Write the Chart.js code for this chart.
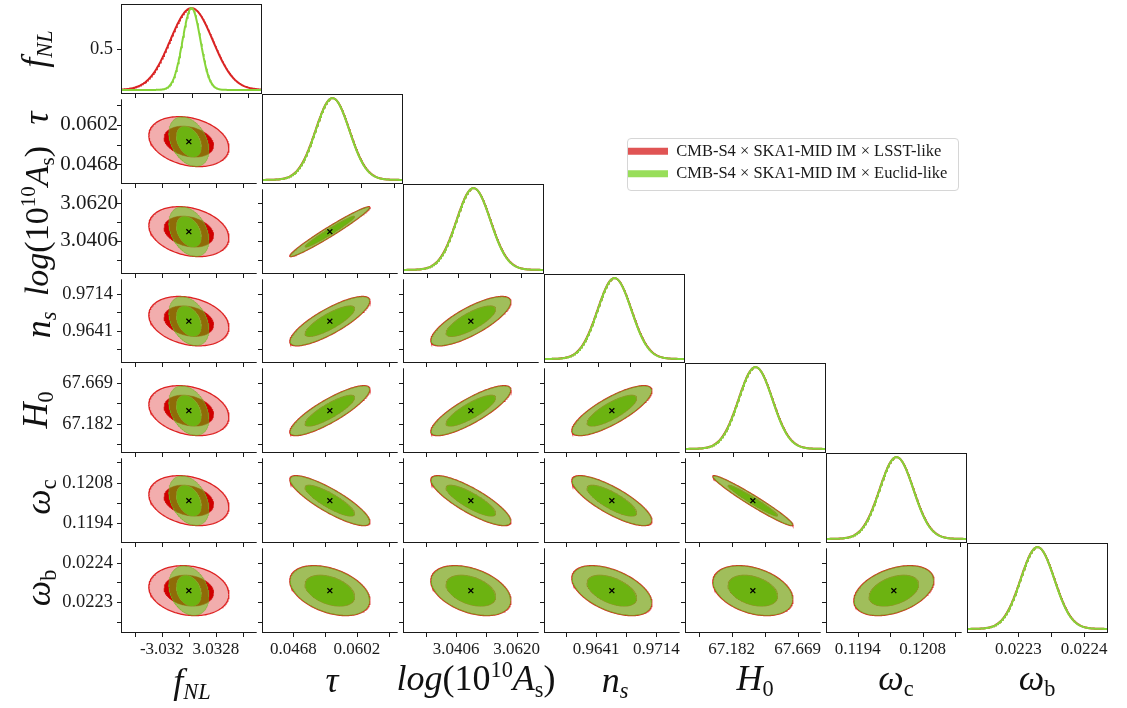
<!DOCTYPE html>
<html>
<head>
<meta charset="utf-8">
<script src="https://cdn.jsdelivr.net/npm/chart.js@4.4.1/dist/chart.umd.min.js"></script>
<style>
  html,body{margin:0;padding:0;background:#fff;}
  body{width:1127px;height:708px;position:relative;overflow:hidden;}
  canvas.panel{position:absolute;}
  .ttl{position:absolute;font-family:'Liberation Serif','DejaVu Serif',serif;font-size:36px;line-height:1;white-space:nowrap;color:#111;transform-origin:center center;}
  .ttl sub{font-size:0.62em;vertical-align:-0.28em;}
  .ttl sup{font-size:0.62em;vertical-align:0.6em;}
  #legbox{position:absolute;left:627px;top:138px;width:330px;height:51px;border:1px solid #d6d6d6;border-radius:4px;background:#fff;}
</style>
</head>
<body>
<div id="legbox"></div>
<script>
// ---------------- data ----------------
const paramKeys = ['fNL', 'tau', 'logAs', 'ns', 'H0', 'omegac', 'omegab'];
const fiducial = [0, 0.0545, 3.0458, 0.9660, 67.339, 0.12018, 0.022329];
// marginal errors used for the 2D contours
const sigmaLSST = [1.837, 0.00345, 0.00578, 0.00198, 0.1208, 0.000353, 0.0000259];
const sigmaEuclid = [0.918, 0.00342, 0.00573, 0.00196, 0.1197, 0.00035, 0.0000257];
// widths of the 1D marginal curves on the diagonal
const sigma1DLSST = [2.30, 0.00345, 0.00578, 0.00198, 0.1208, 0.000353, 0.0000259];
const sigma1DEuclid = [0.97, 0.00342, 0.00573, 0.00196, 0.1197, 0.00035, 0.0000257];
const corrLSST = [
  [ 1.00, -0.25, -0.25, -0.25, -0.25, -0.25, -0.15],
  [-0.25,  1.00,  0.975, 0.82,  0.85, -0.85, -0.40],
  [-0.25,  0.975, 1.00,  0.78,  0.83, -0.83, -0.40],
  [-0.25,  0.82,  0.78,  1.00,  0.80, -0.80, -0.50],
  [-0.25,  0.85,  0.83,  0.80,  1.00, -0.97, -0.35],
  [-0.25, -0.85, -0.83, -0.80, -0.97,  1.00,  0.40],
  [-0.15, -0.40, -0.40, -0.50, -0.35,  0.40,  1.00]
];
const corrEuclid = [
  [ 1.00, -0.35, -0.35, -0.35, -0.35, -0.35, -0.25],
  [-0.35,  1.00,  0.975, 0.82,  0.85, -0.85, -0.40],
  [-0.35,  0.975, 1.00,  0.78,  0.83, -0.83, -0.40],
  [-0.35,  0.82,  0.78,  1.00,  0.80, -0.80, -0.50],
  [-0.35,  0.85,  0.83,  0.80,  1.00, -0.97, -0.35],
  [-0.35, -0.85, -0.83, -0.80, -0.97,  1.00,  0.40],
  [-0.25, -0.40, -0.40, -0.50, -0.35,  0.40,  1.00]
];
const axisHalfRangeSigma = 4.15;
const tickValues = [[-3.032, 3.0328], [0.0468, 0.0602], [3.0406, 3.0620], [0.9641, 0.9714], [67.182, 67.669], [0.1194, 0.1208], [0.0223, 0.0224]];
const tickLabels = [['-3.032', '3.0328'], ['0.0468', '0.0602'], ['3.0406', '3.0620'], ['0.9641', '0.9714'], ['67.182', '67.669'], ['0.1194', '0.1208'], ['0.0223', '0.0224']];
const tickMarks = [
  [-6.064, -3.032, 0, 3.0328, 6.064],
  [0.0468, 0.0535, 0.0602, 0.0669],
  [3.0299, 3.0406, 3.0513, 3.0620],
  [0.96045, 0.9641, 0.96775, 0.9714],
  [66.9385, 67.182, 67.4255, 67.669],
  [0.1194, 0.1201, 0.1208, 0.1215],
  [0.02225, 0.0223, 0.02235, 0.0224]
];
const densityTickValues = [0.5];
const densityTickLabels = ['0.5'];
const densityRange = [-0.05, 1.05];
const contourLevels = [1.515, 2.448]; // 68% and 95% (2D)
const seriesLabels = ['CMB-S4 × SKA1-MID IM × LSST-like', 'CMB-S4 × SKA1-MID IM × Euclid-like'];
const axisTitleHtml = [
  '<i>f</i><sub><i>NL</i></sub>',
  '<i>τ</i>',
  '<i>log</i>(10<sup>10</sup><i>A</i><sub>s</sub>)',
  '<i>n</i><sub><i>s</i></sub>',
  '<i>H</i><sub>0</sub>',
  '<i>ω</i><sub>c</sub>',
  '<i>ω</i><sub>b</sub>'
];

// ---------------- layout & style ----------------
const colLeft = [121, 262, 403, 544, 685, 826, 967];
const colW = 141;
const rowTop = [4, 94, 184, 274, 363, 453, 543];
const rowH = [90, 90, 90, 89, 90, 90, 90];
const PAD = 6;
const SERIF = "'Liberation Serif','DejaVu Serif',serif";
const yTickFont = [18.5, 21, 21, 18.5, 18.5, 18.5, 18.5];
const yTickPad = [8, 3, 3, 8, 8, 8, 8];
const leftTitlePos = [[36, 49], [36, 118], [38, 221], [40, 325], [37, 410], [40, 497], [40, 588]];
const leftTitleSize = [36, 36, 34, 36, 36, 36, 36];
const bottomTitlePos = [[192, 683], [332, 680], [476, 680], [615, 682], [755, 680], [896, 680], [1037, 680]];

const C = {
  redLine: 'rgb(218,36,36)',
  greenLine: 'rgb(134,212,56)',
  redOuterFill: 'rgba(222,40,40,0.38)',
  redOuterEdge: 'rgb(222,34,34)',
  redInnerFill: 'rgb(208,0,0)',
  greenOuterFill: 'rgba(85,205,15,0.52)',
  greenOuterEdge: 'rgba(120,170,40,0.6)',
  greenInnerFill: 'rgba(106,184,18,0.94)',
  greenInnerEdge: 'rgba(140,170,50,0.8)',
  frame: '#1a1a1a',
  text: '#1a1a1a'
};

function axisMin(p) { return fiducial[p] - axisHalfRangeSigma * sigmaLSST[p]; }
function axisMax(p) { return fiducial[p] + axisHalfRangeSigma * sigmaLSST[p]; }

function ellipseHalves(j, i, sig, corr, k, n) {
  const sx = sig[j], sy = sig[i], r = corr[i][j];
  const up = [], lo = [];
  for (let m = 0; m <= n; m++) {
    const x = -Math.cos(Math.PI * m / n) * k;
    const h = Math.sqrt(Math.max(0, k * k - x * x));
    const yc = r * x, dy = Math.sqrt(1 - r * r) * h;
    up.push({x: fiducial[j] + x * sx, y: fiducial[i] + (yc + dy) * sy});
    lo.push({x: fiducial[j] + x * sx, y: fiducial[i] + (yc - dy) * sy});
  }
  return [up, lo];
}

function gaussian1D(p, sig, n) {
  const a = axisMin(p), b = axisMax(p), pts = [];
  for (let m = 0; m <= n; m++) {
    const x = a + (b - a) * m / n;
    const z = (x - fiducial[p]) / sig[p];
    pts.push({x: x, y: Math.exp(-0.5 * z * z)});
  }
  return pts;
}

const framePlugin = {
  id: 'frame',
  afterDatasetsDraw(chart, args, o) {
    const {ctx, chartArea: a} = chart;
    const xs = chart.scales.x, ys = chart.scales.y;
    ctx.save();
    ctx.strokeStyle = C.frame;
    ctx.lineWidth = 1;
    ctx.beginPath();
    ctx.moveTo(a.left + 0.5, a.top); ctx.lineTo(a.left + 0.5, a.bottom);
    ctx.moveTo(a.left, a.bottom - 0.5); ctx.lineTo(a.right, a.bottom - 0.5);
    if (o.diag) {
      ctx.moveTo(a.left, a.top + 0.5); ctx.lineTo(a.right, a.top + 0.5);
      ctx.moveTo(a.right - 0.5, a.top); ctx.lineTo(a.right - 0.5, a.bottom);
    }
    for (const v of o.xMarks) {
      const p = Math.round(xs.getPixelForValue(v)) + 0.5;
      ctx.moveTo(p, a.bottom); ctx.lineTo(p, a.bottom + 4);
    }
    for (const v of o.yMarks) {
      const p = Math.round(ys.getPixelForValue(v)) + 0.5;
      ctx.moveTo(a.left, p); ctx.lineTo(a.left - 4, p);
    }
    ctx.stroke();
    ctx.restore();
  }
};

function ellipseDatasets(j, i, sig, corr, k, fillCol, edgeCol, edgeW) {
  const [up, lo] = ellipseHalves(j, i, sig, corr, k, 90);
  return [
    {data: up, showLine: true, pointRadius: 0, borderColor: edgeCol, borderWidth: edgeW, backgroundColor: fillCol, fill: '+1', tension: 0},
    {data: lo, showLine: true, pointRadius: 0, borderColor: edgeCol, borderWidth: edgeW, backgroundColor: fillCol, fill: false, tension: 0}
  ];
}

function makePanel(i, j) {
  const diag = i === j;
  const left = j === 0 ? 0 : colLeft[j] - PAD;
  const right = colLeft[j] + colW;
  const top = rowTop[i];
  const bottom = i === 6 ? 708 : rowTop[i] + rowH[i] + PAD;
  const cv = document.createElement('canvas');
  cv.className = 'panel';
  cv.width = right - left; cv.height = bottom - top;
  cv.style.left = left + 'px'; cv.style.top = top + 'px';
  document.body.appendChild(cv);

  let datasets;
  if (diag) {
    datasets = [
      {data: gaussian1D(j, sigma1DEuclid, 220), showLine: true, pointRadius: 0, borderColor: C.greenLine, borderWidth: 2, fill: false},
      {data: gaussian1D(j, sigma1DLSST, 220), showLine: true, pointRadius: 0, borderColor: C.redLine, borderWidth: 2, fill: false}
    ];
  } else {
    datasets = [
      {data: [{x: fiducial[j], y: fiducial[i]}], pointStyle: 'crossRot', pointRadius: 3.5, borderColor: '#000', borderWidth: 1.3, backgroundColor: '#000', showLine: false},
      ...ellipseDatasets(j, i, sigmaEuclid, corrEuclid, contourLevels[0], C.greenInnerFill, C.greenInnerEdge, 0.8),
      ...ellipseDatasets(j, i, sigmaEuclid, corrEuclid, contourLevels[1], C.greenOuterFill, C.greenOuterEdge, 0.8),
      ...ellipseDatasets(j, i, sigmaLSST, corrLSST, contourLevels[0], C.redInnerFill, C.redInnerFill, 0.5),
      ...ellipseDatasets(j, i, sigmaLSST, corrLSST, contourLevels[1], C.redOuterFill, C.redOuterEdge, 1.3)
    ];
  }

  const xScale = {
    type: 'linear', min: axisMin(j), max: axisMax(j), position: 'bottom',
    display: i === 6,
    grid: {display: false, drawTicks: false}, border: {display: false},
    ticks: {font: {family: SERIF, size: 17}, color: C.text, padding: 6, maxRotation: 0, autoSkip: false,
            callback: (v, idx) => tickLabels[j][idx]},
    afterBuildTicks: (s) => { s.ticks = tickValues[j].map(v => ({value: v})); }
  };
  if (i === 6) xScale.afterFit = (s) => { s.height = 708 - (rowTop[6] + rowH[6]); s.paddingLeft = 0; s.paddingRight = 0; };

  const yVals = diag ? densityTickValues : tickValues[i];
  const yLabs = diag ? densityTickLabels : tickLabels[i];
  const yScale = {
    type: 'linear',
    min: diag ? densityRange[0] : axisMin(i),
    max: diag ? densityRange[1] : axisMax(i),
    position: 'left',
    display: j === 0,
    grid: {display: false, drawTicks: false}, border: {display: false},
    ticks: {font: {family: SERIF, size: yTickFont[i]}, color: C.text, padding: yTickPad[i], autoSkip: false,
            callback: (v, idx) => yLabs[idx]},
    afterBuildTicks: (s) => { s.ticks = yVals.map(v => ({value: v})); }
  };
  if (j === 0) yScale.afterFit = (s) => { s.width = colLeft[0]; s.paddingTop = 0; s.paddingBottom = 0; };

  new Chart(cv, {
    type: 'scatter',
    data: {datasets},
    options: {
      responsive: false, animation: false, devicePixelRatio: 1,
      layout: {padding: {left: j === 0 ? 0 : PAD, right: 0, top: 0, bottom: i === 6 ? 0 : PAD}},
      scales: {x: xScale, y: yScale},
      plugins: {
        legend: {display: false}, tooltip: {enabled: false},
        frame: {diag: diag, xMarks: tickMarks[j], yMarks: diag ? (i === 0 ? densityTickValues : []) : tickMarks[i]}
      },
      elements: {line: {tension: 0}}
    },
    plugins: [framePlugin]
  });
}

for (let i = 0; i < 7; i++) for (let j = 0; j <= i; j++) makePanel(i, j);

// axis titles
for (let p = 0; p < 7; p++) {
  const l = document.createElement('div');
  l.className = 'ttl'; l.innerHTML = axisTitleHtml[p];
  l.style.fontSize = leftTitleSize[p] + 'px';
  l.style.left = leftTitlePos[p][0] + 'px'; l.style.top = leftTitlePos[p][1] + 'px';
  l.style.transform = 'translate(-50%,-50%) rotate(-90deg)';
  document.body.appendChild(l);
  const b = document.createElement('div');
  b.className = 'ttl'; b.innerHTML = axisTitleHtml[p];
  b.style.left = bottomTitlePos[p][0] + 'px'; b.style.top = bottomTitlePos[p][1] + 'px';
  b.style.transform = 'translate(-50%,-50%)';
  document.body.appendChild(b);
}

// legend
const lc = document.createElement('canvas');
lc.className = 'panel';
lc.width = 334; lc.height = 54;
lc.style.left = '622px'; lc.style.top = '137px';
document.body.appendChild(lc);
new Chart(lc, {
  type: 'scatter',
  data: {datasets: [
    {label: seriesLabels[0], data: [], backgroundColor: 'rgb(224,84,84)', borderWidth: 0},
    {label: seriesLabels[1], data: [], backgroundColor: 'rgb(152,222,90)', borderWidth: 0}
  ]},
  options: {
    responsive: false, animation: false, devicePixelRatio: 1,
    layout: {padding: 0},
    scales: {x: {display: false}, y: {display: false}},
    plugins: {
      tooltip: {enabled: false},
      legend: {display: true, position: 'top', align: 'start', maxHeight: 54,
        labels: {boxWidth: 40, boxHeight: 7, padding: 6, color: C.text, font: {family: SERIF, size: 16.5}}}
    }
  }
});
</script>
</body>
</html>
